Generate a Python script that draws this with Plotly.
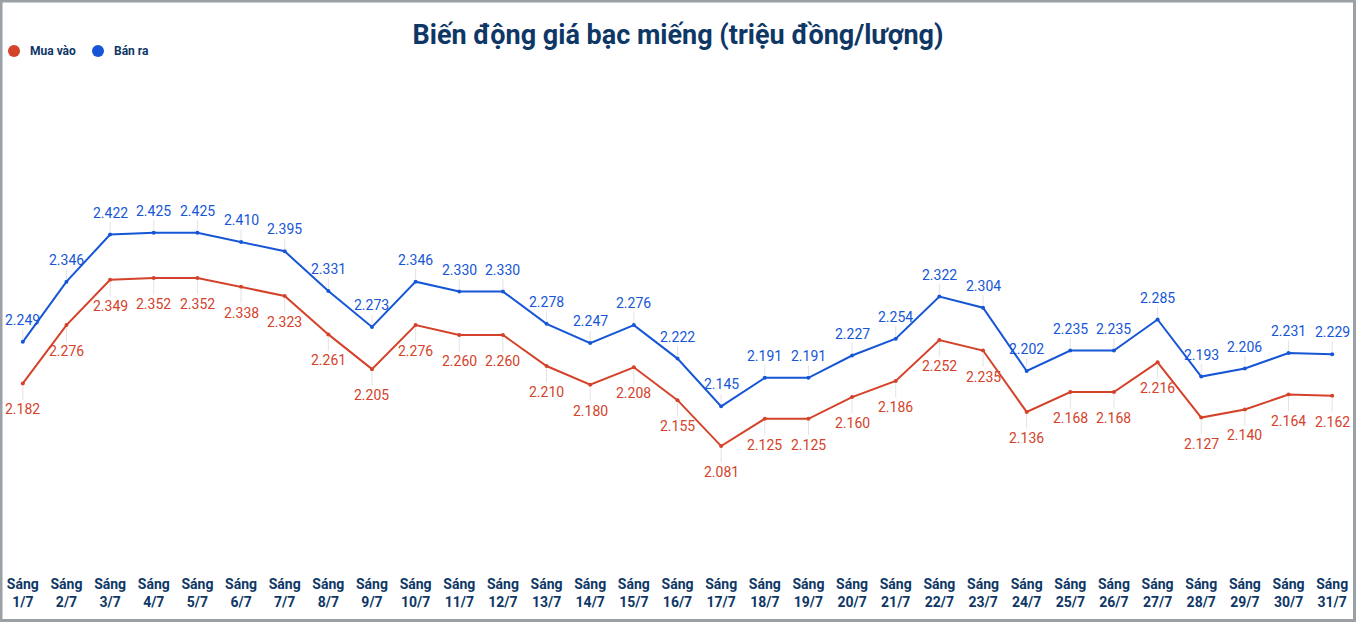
import plotly.graph_objects as go

days = [f"{d}/7" for d in range(1, 32)]
tick_labels = [f"Sáng<br>{d}" for d in days]
ban_ra = [2.249, 2.346, 2.422, 2.425, 2.425, 2.410, 2.395, 2.331, 2.273, 2.346, 2.330, 2.330,
          2.278, 2.247, 2.276, 2.222, 2.145, 2.191, 2.191, 2.227, 2.254, 2.322, 2.304, 2.202,
          2.235, 2.235, 2.285, 2.193, 2.206, 2.231, 2.229]
mua_vao = [2.182, 2.276, 2.349, 2.352, 2.352, 2.338, 2.323, 2.261, 2.205, 2.276, 2.260, 2.260,
           2.210, 2.180, 2.208, 2.155, 2.081, 2.125, 2.125, 2.160, 2.186, 2.252, 2.235, 2.136,
           2.168, 2.168, 2.216, 2.127, 2.140, 2.164, 2.162]
legend_names = ["Mua vào", "Bán ra"]

RED = "#d4422a"
BLUE = "#1656d6"
NAVY = "#0e3766"
FONT = "Roboto"

W, H = 1356, 622
ML, MR, MT, MB = 1, 2, 60, 48
PW, PH = W - ML - MR, H - MT - MB

xs = list(range(len(days)))
fig = go.Figure()
fig.add_trace(go.Scatter(x=xs, y=ban_ra, mode="lines+markers", name="Bán ra",
                         line=dict(color=BLUE, width=2),
                         marker=dict(size=4, color=BLUE), showlegend=False, hoverinfo="skip"))
fig.add_trace(go.Scatter(x=xs, y=mua_vao, mode="lines+markers", name="Mua vào",
                         line=dict(color=RED, width=2),
                         marker=dict(size=4, color=RED), showlegend=False, hoverinfo="skip"))

ann = []
for i, v in enumerate(ban_ra):
    ann.append(dict(x=i, y=v, xref="x", yref="y", text=f"{v:.3f}", showarrow=True,
                    arrowhead=0, arrowwidth=1, arrowcolor="#e3e3e3", ax=0, ay=-22, standoff=2,
                    font=dict(family=FONT, size=14, color=BLUE)))
for i, v in enumerate(mua_vao):
    ann.append(dict(x=i, y=v, xref="x", yref="y", text=f"{v:.3f}", showarrow=True,
                    arrowhead=0, arrowwidth=1, arrowcolor="#e3e3e3", ax=0, ay=26, standoff=2,
                    font=dict(family=FONT, size=14, color=RED)))

def px_x(p):
    return (p - ML) / PW

def px_y(p):
    return (H - MB - p) / PH

# custom legend
leg_items = [(legend_names[0], RED, 14, 28), (legend_names[1], BLUE, 98, 112)]
for name, col, cx, tx in leg_items:
    fig.add_shape(type="circle", xref="paper", yref="paper",
                  x0=px_x(cx - 6), x1=px_x(cx + 6), y0=px_y(51 + 6), y1=px_y(51 - 6),
                  fillcolor=col, line=dict(width=0))
    ann.append(dict(x=px_x(tx), y=px_y(51), xref="paper", yref="paper", text=f"<b>{name}</b>",
                    showarrow=False, xanchor="left", yanchor="middle",
                    font=dict(family=FONT, size=12, color=NAVY)))

fig.add_shape(type="rect", xref="paper", yref="paper", x0=px_x(1), x1=px_x(1354.5),
              y0=px_y(620.5), y1=px_y(1), line=dict(color="#9aa0a6", width=3),
              fillcolor="rgba(0,0,0,0)", layer="above")

fig.update_layout(
    width=W, height=H,
    margin=dict(l=ML, r=MR, t=MT, b=MB),
    paper_bgcolor="white", plot_bgcolor="white",
    title=dict(text="<b>Biến động giá bạc miếng (triệu đồng/lượng)</b>", x=0.5, xanchor="center",
               y=1 - 35 / H, yanchor="middle", font=dict(family=FONT, size=27, color=NAVY)),
    xaxis=dict(range=[-0.5, 30.5], tickmode="array", tickvals=xs,
               ticktext=[f"<b>{t}</b>" for t in tick_labels], showgrid=False, zeroline=False,
               showline=False, tickfont=dict(family=FONT, size=14, color=NAVY), ticks=""),
    yaxis=dict(range=[1.8748, 2.7033], visible=False, showgrid=False, zeroline=False),
    annotations=ann,
    showlegend=False,
)
fig.write_html("out.html")
